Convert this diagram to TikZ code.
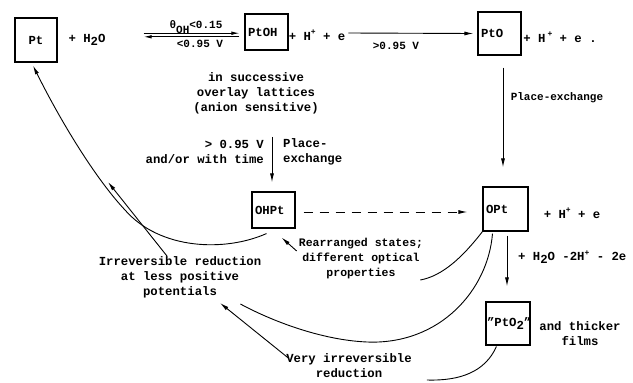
\documentclass[tikz,border=0pt]{standalone}
\usepackage{fontspec}
\setmainfont{Liberation Mono}
\usetikzlibrary{arrows.meta,calc}
\newcommand{\upp}[1]{\raisebox{0.85ex}{\footnotesize #1}}
\newcommand{\dnn}[1]{\raisebox{-0.45ex}{#1}}
\begin{document}
\begin{tikzpicture}[x=1pt,y=-1pt,
  every node/.style={font=\fontsize{12.3}{15}\selectfont\bfseries, inner sep=0pt},
  box/.style={draw, line width=1.1pt, inner sep=3pt, align=left},
  conn/.style={line width=0.9pt},
  arr/.style={conn, -{Latex[length=9pt,width=4pt]}},
  smalltxt/.style={font=\fontsize{11}{13}\selectfont\bfseries},
]
\useasboundingbox (0,0) rectangle (633,383);
% boxes
\node[box, text width=36pt, align=center, minimum height=44pt] (pt) at (36,40) {Pt};
\node[box, text width=37pt, minimum height=36pt] (ptoh) at (266.5,32) {PtOH};
\node[box, text width=37pt, minimum height=43pt] (pto) at (499.5,33.5) {PtO};
\node[box, text width=37pt, minimum height=36pt] (ohpt) at (273.5,210) {OHPt};
\node[box, text width=39pt, minimum height=44pt] (opt) at (505.5,209) {OPt};
\node[box, text width=42pt, inner sep=1pt, align=center, minimum height=43pt] (pto2) at (508,323.5) {\symbol{34}PtO\dnn{2}\symbol{34}};
% top row
\node (h2o) at (87,40) {+ H\dnn{2}O};
\node[smalltxt] (eqtop) at (196,27) {θ\raisebox{-0.9ex}{OH}<0.15};
\node[smalltxt] (eqbot) at (200,44) {<0.95 V};
\coordinate (eqL) at ($(h2o.east)+(38,-5)$);
\coordinate (eqR) at ($(ptoh.west)+(-5,3)$);
\draw[conn,-{Latex[length=8pt,width=3.5pt]}] ([yshift=1.8pt]eqL) -- ([yshift=1.8pt]eqR);
\draw[conn,-{Latex[length=8pt,width=3.5pt]}] ([yshift=-1.8pt]eqR) -- ([yshift=-1.8pt]eqL);
\node (hp1) at (317,35) {+ H\upp{+} + e};
\node[smalltxt] (v095) at (396,46) {>0.95 V};
\draw[arr] ([xshift=3pt,yshift=2pt]hp1.east) -- ([xshift=-4pt]pto.west);
\node (hp2) at (560,37) {+ H\,\upp{+} + e .};
\node[align=center] (lat) at (256,93) {in successive\\overlay lattices\\(anion sensitive)};
\node[smalltxt] (pex1) at (557,98) {Place-exchange};
\draw[arr] ($(pto.south)+(3.5,12)$) -- ($(opt.north)+(-2.5,-19)$);
% middle
\node[align=right, anchor=east] (cond) at (264,152) {> 0.95 V\\and/or with time};
\node[align=left, anchor=west] (pex2) at (283,152) {Place-\\exchange};
\draw[arr] ($(lat.south)+(16,23)$) -- ($(ohpt.north)+(-1.5,-9)$);
\draw[arr, dash pattern=on 9pt off 7pt] ([xshift=8pt,yshift=-2pt]ohpt.east) -- ([xshift=-15pt,yshift=-3pt]opt.west);
\node (hp3) at (572,213) {+ H\upp{+} + e};
\draw[arr] ($(opt.south)+(1.5,4)$) -- ($(pto2.north)+(-1,-15)$);
\node[anchor=west] (h2o2) at (518,257) {+ H\dnn{2}O -2H\upp{+} - 2e};
\node[align=center] (thick) at (580,334) {and thicker\\films};
\node[align=center, font=\fontsize{11.5}{15}\selectfont\bfseries] (rearr) at (361,259) {Rearranged states;\\different optical\\properties};
\node[align=center] (irr) at (180,277) {Irreversible reduction\\at less positive\\potentials};
\node[align=center] (very) at (349,366) {Very irreversible\\reduction};
% curves
\coordinate (c1s) at ($(ohpt.south)+(-7,5)$);
\coordinate (c1e) at ($(pt.south)+(-3,3)$);
\draw[arr] (c1s) .. controls (225,252) and (160,250) .. (125,210) .. controls (95,178) and (60,120) .. (c1e);
\coordinate (t2) at (108,182);
\draw[arr] ($(irr.north)+(-13,0)$) -- (t2);
\draw[arr] ($(rearr.west)+(-2,-8)$) -- ($(ohpt.south east)+(-14,9)$);
\draw[conn] (opt.south west) .. controls (462,258) and (442,276) .. ($(rearr.east)+(-3,21)$);
\draw[conn] ($(opt.south)+(-13,2)$) .. controls (488,290) and (440,345) .. (367,342) .. controls (320,340) and (270,320) .. ($(irr.east)+(-21,27)$);
\draw[conn] ($(pto2.south west)+(11,1)$) .. controls (485,372) and (460,381) .. ($(very.east)+(15,14)$);
\draw[arr] ($(very.north west)+(2,4)$) -- ($(irr.south)+(40,5)$);
\end{tikzpicture}
\end{document}
